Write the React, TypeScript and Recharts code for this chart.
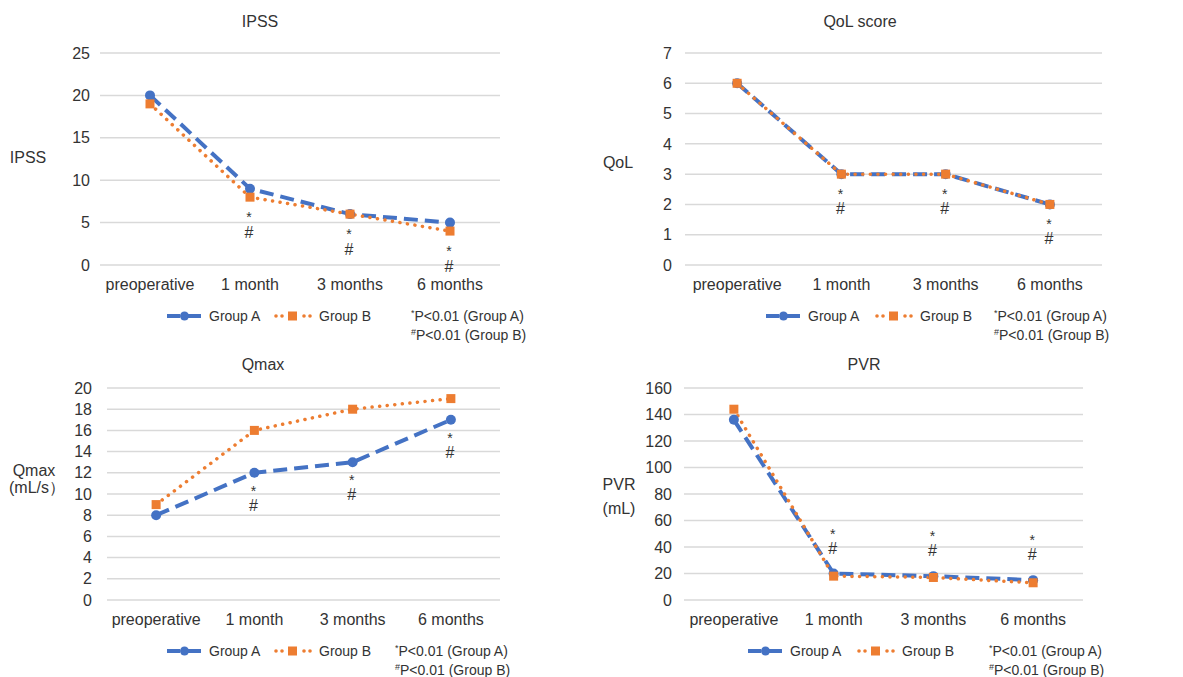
import React from "react";
import { LineChart, Line, XAxis, YAxis, CartesianGrid } from "recharts";

// ---------- data ----------
const categories = ["preoperative", "1 month", "3 months", "6 months"];
const starMarks = ["", "*", "*", "*"];
const hashMarks = ["", "#", "#", "#"];

const ipssGroupA = [20, 9, 6, 5];
const ipssGroupB = [19, 8, 6, 4];
const ipssTicks = [0, 5, 10, 15, 20, 25];

const qolGroupA = [6, 3, 3, 2];
const qolGroupB = [6, 3, 3, 2];
const qolTicks = [0, 1, 2, 3, 4, 5, 6, 7];

const qmaxGroupA = [8, 12, 13, 17];
const qmaxGroupB = [9, 16, 18, 19];
const qmaxTicks = [0, 2, 4, 6, 8, 10, 12, 14, 16, 18, 20];

const pvrGroupA = [136, 20, 18, 15];
const pvrGroupB = [144, 18, 17, 13];
const pvrTicks = [0, 20, 40, 60, 80, 100, 120, 140, 160];

const seriesNames = ["Group A", "Group B"];
const footnoteMarks = ["*", "#"];
const footnoteTexts = ["P<0.01 (Group A)", "P<0.01 (Group B)"];

// ---------- style ----------
const TEXT = "#333333";
const BLUE = "#4472C4";
const ORANGE = "#ED7D31";
const GRID = "#d9d9d9";
const FONT = '"Liberation Sans", Arial, Helvetica, sans-serif';

function buildRows(a: number[], b: number[]) {
  return categories.map((cat, i) => ({
    cat,
    a: a[i],
    b: b[i],
    star: starMarks[i],
    hash: hashMarks[i],
  }));
}

const dotA = (props: any) => {
  const { cx, cy, index } = props;
  if (cx == null || cy == null) return <g key={`da-${index}`} />;
  return <circle key={`da-${index}`} cx={cx} cy={cy} r={5} fill={BLUE} />;
};

const dotB = (props: any) => {
  const { cx, cy, index } = props;
  if (cx == null || cy == null) return <g key={`db-${index}`} />;
  return <rect key={`db-${index}`} x={cx - 4.5} y={cy - 4.5} width={9} height={9} fill={ORANGE} />;
};

const makeAnnot = (starOff: number, hashOff: number) => (props: any) => {
  const { cx, cy, payload, index } = props;
  if (!payload || !payload.star || cx == null) return <g key={`an-${index}`} />;
  return (
    <g key={`an-${index}`}>
      <text x={cx - 1} y={cy + starOff + 8} textAnchor="middle" fontSize={14} fill={TEXT}>
        {payload.star}
      </text>
      <text x={cx - 1} y={cy + hashOff + 6} textAnchor="middle" fontSize={16} fill={TEXT}>
        {payload.hash}
      </text>
    </g>
  );
};

type PanelCfg = {
  x: number;
  y: number;
  w: number;
  h: number;
  plot: { l: number; r: number; t: number; b: number };
  tickMargin: number;
  rows: any[];
  ticks: number[];
  annotBelow: boolean;
  starOff: number;
  hashOff: number;
  title: string;
  titleX: number;
  titleY: number;
  yLabel: { text: string; x: number; y: number }[];
  legend: { iconA: number; iconB: number; foot: number; cy: number };
};

function LegendOverlay({ cfg }: { cfg: PanelCfg }) {
  const { iconA, iconB, foot, cy } = cfg.legend;
  return (
    <svg
      width={cfg.w}
      height={cfg.h}
      style={{ position: "absolute", left: 0, top: 0, pointerEvents: "none", overflow: "visible" }}
    >
      <text x={cfg.titleX} y={cfg.titleY} textAnchor="middle" fontSize={16} fill={TEXT}>
        {cfg.title}
      </text>
      {cfg.yLabel.map((l, i) => (
        <text key={i} x={l.x} y={l.y} textAnchor="middle" fontSize={16} fill={TEXT}>
          {l.text}
        </text>
      ))}
      {/* Group A icon */}
      <line x1={iconA} x2={iconA + 13} y1={cy} y2={cy} stroke={BLUE} strokeWidth={4} />
      <line x1={iconA + 17} x2={iconA + 34} y1={cy} y2={cy} stroke={BLUE} strokeWidth={4} />
      <circle cx={iconA + 17.5} cy={cy} r={4.5} fill={BLUE} />
      <text x={iconA + 42} y={cy + 5} fontSize={14} fill={TEXT}>
        {seriesNames[0]}
      </text>
      {/* Group B icon */}
      {[0, 6, 28, 34].map((d) => (
        <circle key={d} cx={iconB + d + 1} cy={cy} r={1.8} fill={ORANGE} />
      ))}
      <rect x={iconB + 13} y={cy - 4.5} width={9} height={9} fill={ORANGE} />
      <text x={iconB + 44} y={cy + 5} fontSize={14} fill={TEXT}>
        {seriesNames[1]}
      </text>
      {footnoteTexts.map((t, i) => (
        <text key={i} x={foot} y={cy + 5 + i * 18.5} fontSize={14} fill={TEXT}>
          <tspan fontSize={9} dy={-5}>
            {footnoteMarks[i]}
          </tspan>
          <tspan dy={5}>{t}</tspan>
        </text>
      ))}
    </svg>
  );
}

function Panel({ cfg }: { cfg: PanelCfg }) {
  const { w, h, plot, rows, ticks } = cfg;
  const yAxisW = 60;
  const xAxisH = 30;
  const plotW = plot.r - plot.l;
  const annotKey = cfg.annotBelow
    ? (d: any) => Math.min(d.a, d.b)
    : (d: any) => Math.max(d.a, d.b);
  return (
    <div style={{ position: "absolute", left: cfg.x, top: cfg.y, width: w, height: h }}>
      <LineChart
        width={w}
        height={h}
        data={rows}
        margin={{ top: plot.t, right: w - plot.r, left: plot.l - yAxisW, bottom: h - plot.b - xAxisH }}
      >
        <CartesianGrid vertical={false} stroke={GRID} strokeWidth={1.5} />
        <XAxis
          dataKey="cat"
          axisLine={false}
          tickLine={false}
          tickSize={0}
          tickMargin={14}
          height={xAxisH}
          padding={{ left: plotW / 8, right: plotW / 8 }}
          interval={0}
          tick={{ fill: TEXT, fontSize: 16 }}
        />
        <YAxis
          width={yAxisW}
          domain={[0, ticks[ticks.length - 1]]}
          ticks={ticks}
          interval={0}
          axisLine={false}
          tickLine={false}
          tickSize={0}
          tickMargin={cfg.tickMargin}
          tick={{ fill: TEXT, fontSize: 16 }}
        />
        <Line
          dataKey="a"
          name={seriesNames[0]}
          stroke={BLUE}
          strokeWidth={4}
          strokeDasharray="14 7"
          dot={dotA}
          activeDot={false}
          isAnimationActive={false}
        />
        <Line
          dataKey="b"
          name={seriesNames[1]}
          stroke={ORANGE}
          strokeWidth={3.5}
          strokeDasharray="0.1 7.5"
          strokeLinecap="round"
          dot={dotB}
          activeDot={false}
          isAnimationActive={false}
        />
        <Line
          dataKey={annotKey}
          stroke="none"
          dot={makeAnnot(cfg.starOff, cfg.hashOff)}
          activeDot={false}
          isAnimationActive={false}
        />
      </LineChart>
      <LegendOverlay cfg={cfg} />
    </div>
  );
}

const panels: PanelCfg[] = [
  {
    x: 0,
    y: 0,
    w: 590,
    h: 338,
    plot: { l: 100, r: 500, t: 53, b: 265 },
    tickMargin: 10,
    rows: buildRows(ipssGroupA, ipssGroupB),
    ticks: ipssTicks,
    annotBelow: true,
    starOff: 17,
    hashOff: 35,
    title: "IPSS",
    titleX: 260,
    titleY: 27,
    yLabel: [{ text: "IPSS", x: 28, y: 163 }],
    legend: { iconA: 167, iconB: 275, foot: 411, cy: 316 },
  },
  {
    x: 590,
    y: 0,
    w: 593,
    h: 338,
    plot: { l: 95, r: 512, t: 53, b: 265 },
    tickMargin: 13,
    rows: buildRows(qolGroupA, qolGroupB),
    ticks: qolTicks,
    annotBelow: true,
    starOff: 17,
    hashOff: 34,
    title: "QoL score",
    titleX: 270,
    titleY: 27,
    yLabel: [{ text: "QoL", x: 28, y: 168 }],
    legend: { iconA: 176, iconB: 286, foot: 404, cy: 316 },
  },
  {
    x: 0,
    y: 340,
    w: 590,
    h: 337,
    plot: { l: 107, r: 500, t: 48, b: 260 },
    tickMargin: 15,
    rows: buildRows(qmaxGroupA, qmaxGroupB),
    ticks: qmaxTicks,
    annotBelow: true,
    starOff: 15,
    hashOff: 32,
    title: "Qmax",
    titleX: 263,
    titleY: 30,
    yLabel: [
      { text: "Qmax", x: 34, y: 136 },
      { text: "(mL/s）", x: 37, y: 153 },
    ],
    legend: { iconA: 167, iconB: 275, foot: 395, cy: 311 },
  },
  {
    x: 590,
    y: 340,
    w: 593,
    h: 337,
    plot: { l: 94, r: 493, t: 48, b: 260 },
    tickMargin: 12,
    rows: buildRows(pvrGroupA, pvrGroupB),
    ticks: pvrTicks,
    annotBelow: false,
    starOff: -43,
    hashOff: -26,
    title: "PVR",
    titleX: 274,
    titleY: 30,
    yLabel: [
      { text: "PVR", x: 29, y: 150 },
      { text: "(mL)", x: 29, y: 174 },
    ],
    legend: { iconA: 158, iconB: 268, foot: 399, cy: 311 },
  },
];

export default function App() {
  return (
    <div
      style={{
        position: "absolute",
        left: 0,
        top: 0,
        width: 1183,
        height: 677,
        background: "#ffffff",
        fontFamily: FONT,
        overflow: "hidden",
      }}
    >
      {panels.map((p, i) => (
        <Panel key={i} cfg={p} />
      ))}
    </div>
  );
}
